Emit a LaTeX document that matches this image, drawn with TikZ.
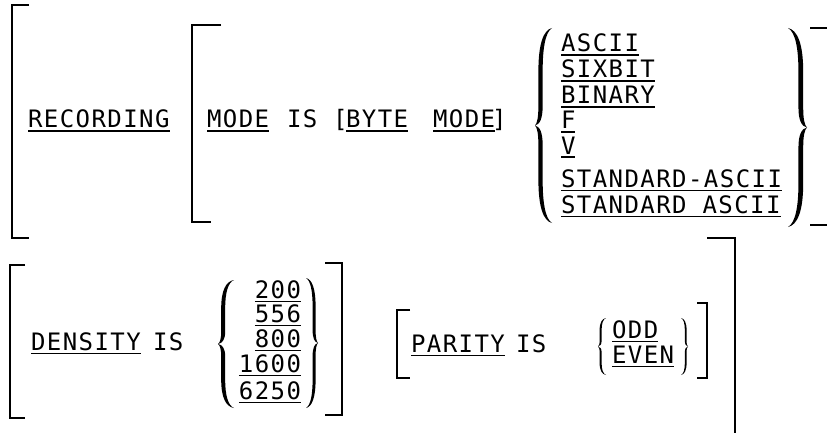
\documentclass[tikz,border=0pt]{standalone}
\usepackage{fontspec}
\newfontfamily\cobol[LetterSpace=6]{DejaVu Sans Mono}
\newsavebox\ulbox
\newcommand\ul[1]{\sbox\ulbox{#1}\rlap{\rule[-4.2pt]{\wd\ulbox}{1.7pt}}\usebox\ulbox}
% left curly brace: #1 tip x, #2 ends x, #3 top y, #4 bottom y
\newcommand\curly[4]{%
\begin{scope}[shift={(#1,#3)}, xscale={#2-#1}, yscale={#4-#3}]
\fill (1,0) .. controls (0.5,0.01) and (0.2,0.08) .. (0.2,0.22)
 -- (0.2,0.40) .. controls (0.2,0.46) and (0.12,0.49) .. (0,0.5)
 .. controls (0.12,0.51) and (0.2,0.54) .. (0.2,0.60)
 -- (0.2,0.78) .. controls (0.2,0.92) and (0.5,0.99) .. (1,1)
 .. controls (0.62,0.98) and (0.45,0.9) .. (0.45,0.78)
 -- (0.45,0.60) .. controls (0.45,0.54) and (0.3,0.505) .. (0,0.5)
 .. controls (0.3,0.495) and (0.45,0.46) .. (0.45,0.40)
 -- (0.45,0.22) .. controls (0.45,0.1) and (0.62,0.02) .. (1,0) -- cycle;
\end{scope}}
\tikzset{
 kw/.style={anchor=base west, inner sep=0pt, outer sep=0pt, font=\cobol\fontsize{24}{28}\selectfont},
 kwr/.style={kw, anchor=base east},
 brk/.style={line width=2.4pt},
 sbrk/.style={line width=1.8pt}
}
\begin{document}
\begin{tikzpicture}[x=1pt, y=-1pt]
\useasboundingbox (0,0) rectangle (827,433);
% ---- row 1 ----
\draw[brk] (29,5) -- (12,5) -- (12,238) -- (29,238);
\draw[brk] (221,25) -- (192,25) -- (192,222) -- (211,222);
\draw[brk] (810,28) -- (827,28);
\draw[brk] (810,225) -- (827,225);
\node[kw] (rec) at (28,128) {\ul{RECORDING}};
\node[kw] (mode) at (207,128) {\ul{MODE}};
\node[kw] (is1) at (287,128) {IS};
\node[kw] (lb) at (333,128) {[};
\node[kw] (byte) at (346,128) {\ul{BYTE}};
\node[kw] (mode2) at (433,128) {\ul{MODE}};
\node[kw] (rb) at (492,128) {]};
\curly{535}{552}{28}{223}
\curly{807}{788}{28}{227}
\node[kw] (ascii) at (561,52) {\ul{ASCII}};
\node[kw] (sixbit) at (561,78) {\ul{SIXBIT}};
\node[kw] (binary) at (561,104) {\ul{BINARY}};
\node[kw] (f) at (561,129) {\ul{F}};
\node[kw] (v) at (561,154) {\ul{V}};
\node[kw] (stdh) at (561,187) {\ul{STANDARD-ASCII}};
\node[kw] (stds) at (561,213) {\ul{STANDARD ASCII}};
% ---- row 2 ----
\draw[brk] (25,265) -- (10,265) -- (10,418) -- (25,418);
\draw[brk] (325,263) -- (342,263) -- (342,415) -- (325,415);
\node[kw] (dens) at (31,350) {\ul{DENSITY}};
\node[kw] (is2) at (153,350) {IS};
\curly{218}{234}{280}{408}
\curly{318}{306}{278}{408}
\node[kwr] (n200) at (301,298) {\ul{200}};
\node[kwr] (n556) at (301,322) {\ul{556}};
\node[kwr] (n800) at (301,347) {\ul{800}};
\node[kwr] (n1600) at (301,372) {\ul{1600}};
\node[kwr] (n6250) at (301,399) {\ul{6250}};
\draw[sbrk] (410,310) -- (397,310) -- (397,378) -- (410,378);
\node[kw] (par) at (411,352) {\ul{PARITY}};
\node[kw] (is3) at (516,352) {IS};
\curly{598}{606}{318}{375}
\curly{688}{681}{318}{375}
\node[kw] (odd) at (612,338) {\ul{ODD}};
\node[kw] (even) at (612,363) {\ul{EVEN}};
\draw[sbrk] (697,303) -- (707,303) -- (707,378) -- (697,378);
\draw[brk] (707,238) -- (735,238) -- (735,433);
\end{tikzpicture}
\end{document}
